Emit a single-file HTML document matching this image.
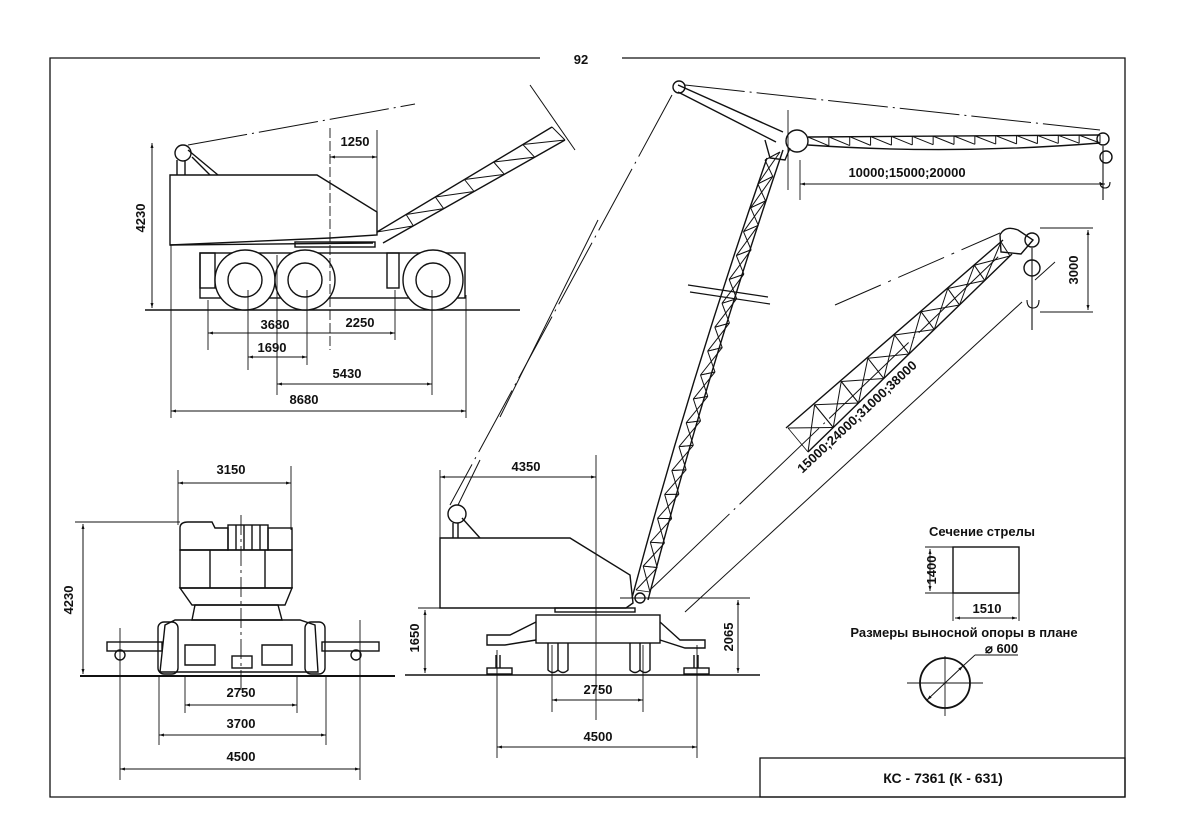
<!DOCTYPE html>
<html><head><meta charset="utf-8"><style>
html,body{margin:0;padding:0;background:#fff}
svg{display:block}
text{font-family:"Liberation Sans",sans-serif;font-weight:bold;fill:#111}
</style></head><body>
<svg id="s" width="1200" height="837" viewBox="0 0 1200 837" xmlns="http://www.w3.org/2000/svg">
<defs>
<marker id="a" viewBox="0 0 10 10" refX="10" refY="5" markerWidth="9" markerHeight="5" orient="auto-start-reverse"><path d="M0,2 L10,5 L0,8z" fill="#111"/></marker>
</defs>
<g fill="none" stroke="#111" stroke-width="1.3">
<path d="M540,58 L50,58 L50,797 L1125,797 L1125,58 L622,58"/>
<rect x="760" y="758" width="365" height="39"/>
</g>
<text x="581" y="64" font-size="13" text-anchor="middle">92</text>
<text x="943" y="783" font-size="14" text-anchor="middle">КС - 7361 (К - 631)</text>

<g id="g" fill="none" stroke="#111" stroke-width="1.4">
<line x1="145" y1="310" x2="520" y2="310"/>
<path d="M170,175 L317,175 L377,212 L377,235 L330,238 L170,245 Z"/>
<path d="M170,245 L373,243"/>
<rect x="295" y="242" width="80" height="5"/>
<circle cx="183" cy="153" r="8"/>
<path d="M177,160 L177,175 M185,160 L185,175 M188,150 L218,175 M192,157 L210,175"/>
<path d="M188,145 L415,104" stroke-dasharray="60,5,2,5" stroke-width="1"/>
<rect x="200" y="253" width="265" height="45"/>
<rect x="200" y="253" width="15" height="35"/>
<rect x="387" y="253" width="12" height="35"/>
<circle cx="245" cy="280" r="30" fill="#fff"/><circle cx="245" cy="280" r="17"/>
<circle cx="305" cy="280" r="30" fill="#fff"/><circle cx="305" cy="280" r="17"/>
<circle cx="433" cy="280" r="30" fill="#fff"/><circle cx="433" cy="280" r="17"/>
<path d="M530,85 L575,150" stroke-width="1"/>
<path d="M598,220 L500,417" stroke-width="1"/>
<line x1="152" y1="143" x2="152" y2="308" marker-start="url(#a)" marker-end="url(#a)" stroke-width="1"/>
<line x1="330" y1="128" x2="330" y2="350" stroke-width="0.9" stroke-dasharray="10,3"/>
<line x1="377" y1="130" x2="377" y2="235" stroke-width="0.9"/>
<line x1="330" y1="157" x2="377" y2="157" marker-start="url(#a)" marker-end="url(#a)" stroke-width="1"/>
<line x1="208" y1="333" x2="395" y2="333" marker-end="url(#a)" stroke-width="1"/>
<line x1="330" y1="333" x2="208" y2="333" marker-end="url(#a)" stroke-width="1"/>
<line x1="208" y1="300" x2="208" y2="350" stroke-width="0.9"/>
<line x1="395" y1="290" x2="395" y2="340" stroke-width="0.9"/>
<line x1="248" y1="357" x2="307" y2="357" marker-start="url(#a)" marker-end="url(#a)" stroke-width="1"/>
<line x1="248" y1="290" x2="248" y2="370" stroke-width="0.9"/>
<line x1="307" y1="290" x2="307" y2="365" stroke-width="0.9"/>
<line x1="277" y1="255" x2="277" y2="395" stroke-width="0.9"/>
<line x1="277" y1="384" x2="432" y2="384" marker-start="url(#a)" marker-end="url(#a)" stroke-width="1"/>
<line x1="432" y1="290" x2="432" y2="395" stroke-width="0.9"/>
<line x1="171" y1="245" x2="171" y2="418" stroke-width="0.9"/>
<line x1="466" y1="295" x2="466" y2="418" stroke-width="0.9"/>
<line x1="171" y1="411" x2="466" y2="411" marker-start="url(#a)" marker-end="url(#a)" stroke-width="1"/>

<line x1="80" y1="676" x2="395" y2="676" stroke-width="2"/>
<path d="M180,528 Q180,522 188,522 L212,522 L215,528 L228,528 L228,550 L180,550 Z"/>
<rect x="228" y="525" width="40" height="25"/>
<path d="M236,525 V550 M244,525 V550 M252,525 V550 M260,525 V550"/>
<rect x="268" y="528" width="24" height="22"/>
<path d="M180,550 L292,550 L292,588 L180,588 Z M210,550 V588 M265,550 V588"/>
<path d="M180,588 L292,588 L285,605 L192,605 Z"/>
<path d="M195,605 L278,605 L282,620 L192,620 Z"/>
<path d="M165,625 L175,620 L300,620 L315,625 L318,672 L160,672 Z"/>
<rect x="158" y="622" width="20" height="52" rx="6"/>
<rect x="305" y="622" width="20" height="52" rx="6"/>
<path d="M185,645 h30 v20 h-30z M262,645 h30 v20 h-30z"/>
<rect x="232" y="656" width="20" height="12"/>
<rect x="107" y="642" width="55" height="9"/>
<rect x="322" y="642" width="57" height="9"/>
<circle cx="120" cy="655" r="5"/><circle cx="356" cy="655" r="5"/>
<line x1="241" y1="515" x2="241" y2="690" stroke-width="0.9" stroke-dasharray="20,4,3,4"/>
<line x1="178" y1="470" x2="178" y2="525" stroke-width="0.9"/>
<line x1="291" y1="466" x2="291" y2="530" stroke-width="0.9"/>
<line x1="178" y1="483" x2="291" y2="483" marker-start="url(#a)" marker-end="url(#a)" stroke-width="1"/>
<line x1="75" y1="522" x2="180" y2="522" stroke-width="0.9"/>
<line x1="83" y1="524" x2="83" y2="674" marker-start="url(#a)" marker-end="url(#a)" stroke-width="1"/>
<line x1="185" y1="676" x2="185" y2="713" stroke-width="0.9"/>
<line x1="297" y1="676" x2="297" y2="713" stroke-width="0.9"/>
<line x1="185" y1="705" x2="297" y2="705" marker-start="url(#a)" marker-end="url(#a)" stroke-width="1"/>
<line x1="159" y1="676" x2="159" y2="745" stroke-width="0.9"/>
<line x1="326" y1="676" x2="326" y2="745" stroke-width="0.9"/>
<line x1="159" y1="735" x2="326" y2="735" marker-start="url(#a)" marker-end="url(#a)" stroke-width="1"/>
<line x1="120" y1="628" x2="120" y2="780" stroke-width="0.9"/>
<line x1="360" y1="620" x2="360" y2="780" stroke-width="0.9"/>
<line x1="120" y1="769" x2="360" y2="769" marker-start="url(#a)" marker-end="url(#a)" stroke-width="1"/>

<line x1="405" y1="675" x2="760" y2="675" stroke-width="1.6"/>
<path d="M440,538 L570,538 L630,575 L633,603 L626,608 L440,608 Z"/>
<circle cx="457" cy="514" r="9"/>
<path d="M453,523 V538 M458,523 V538 M462,518 L480,538"/>
<path d="M458,505 L480,460" stroke-width="1"/>
<rect x="555" y="608" width="80" height="4"/>
<rect x="536" y="615" width="124" height="28"/>
<path d="M536,622 L510,635 L487,635 L487,645 L505,645 L536,640"/>
<path d="M660,622 L680,640 L705,640 L705,648 L685,648 L660,640"/>
<path d="M548,643 v27 q5,5 10,0 v-27 M558,643 v27 q5,5 10,0 v-27 M630,643 v27 q5,5 10,0 v-27 M640,643 v27 q5,5 10,0 v-27"/>
<rect x="487" y="668" width="25" height="6"/><rect x="684" y="668" width="25" height="6"/>
<path d="M496,655 V668 M500,655 V668 M694,655 V668 M698,655 V668"/>
<line x1="596" y1="455" x2="596" y2="720" stroke-width="0.9"/>
<line x1="440" y1="470" x2="440" y2="538" stroke-width="0.9"/>
<line x1="440" y1="477" x2="596" y2="477" marker-start="url(#a)" marker-end="url(#a)" stroke-width="1"/>
<line x1="418" y1="608" x2="445" y2="608" stroke-width="0.9"/>
<line x1="425" y1="610" x2="425" y2="673" marker-start="url(#a)" marker-end="url(#a)" stroke-width="1"/>
<line x1="620" y1="598" x2="750" y2="598" stroke-width="0.9"/>
<line x1="738" y1="600" x2="738" y2="673" marker-start="url(#a)" marker-end="url(#a)" stroke-width="1"/>
<line x1="552" y1="645" x2="552" y2="712" stroke-width="0.9"/>
<line x1="643" y1="645" x2="643" y2="712" stroke-width="0.9"/>
<line x1="552" y1="700" x2="643" y2="700" marker-start="url(#a)" marker-end="url(#a)" stroke-width="1"/>
<line x1="497" y1="650" x2="497" y2="758" stroke-width="0.9"/>
<line x1="697" y1="645" x2="697" y2="758" stroke-width="0.9"/>
<line x1="497" y1="747" x2="697" y2="747" marker-start="url(#a)" marker-end="url(#a)" stroke-width="1"/>

<path d="M632,598 Q690,380 767,158"/>
<path d="M648,600 Q705,380 783,150"/>
<circle cx="640" cy="598" r="5"/>
<path d="M690,292 L770,304 M688,285 L768,297" stroke-width="1.2"/>
<path d="M678,85 L783,132 M678,92 L776,142"/>
<circle cx="679" cy="87" r="6"/>
<path d="M765,140 L770,158 L785,160 L790,148"/>
<circle cx="797" cy="141" r="11"/>
<path d="M685,85 L1100,130" stroke-dasharray="60,5,2,5" stroke-width="1"/>
<path d="M672,95 L450,505" stroke-dasharray="70,6,2,6" stroke-width="1"/>
<path d="M788,110 L788,190" stroke-width="0.9"/>
<path d="M808,137 L1100,135 M808,145 Q950,155 1100,143"/>
<circle cx="1103" cy="139" r="6"/>
<circle cx="1106" cy="157" r="6"/>
<path d="M1103,146 V200 M1100,182 q0,6 5,6 q5,0 5,-6" stroke-width="1.1"/>
<line x1="800" y1="160" x2="800" y2="200" stroke-width="0.9"/>
<line x1="800" y1="184" x2="1105" y2="184" marker-start="url(#a)" marker-end="url(#a)" stroke-width="1"/>
<path d="M786,428 L1003,240 M808,452 L1012,254"/>
<path d="M1000,235 q5,-10 18,-5 l15,10 l-12,14 l-20,-2 z"/>
<circle cx="1032" cy="240" r="7"/><circle cx="1032" cy="268" r="8"/>
<path d="M1032,248 V330 M1027,300 q0,8 6,8 q6,0 6,-8" stroke-width="1.1"/>
<path d="M835,305 L1000,233" stroke-dasharray="50,8,3,8" stroke-width="1"/>
<path d="M650,590 L1000,255" stroke-dasharray="110,6,2,6" stroke-width="1"/>
<path d="M685,612 L1022,302" stroke-width="1"/>
<line x1="1040" y1="228" x2="1093" y2="228" stroke-width="0.9"/>
<line x1="1040" y1="312" x2="1093" y2="312" stroke-width="0.9"/>
<line x1="1088" y1="230" x2="1088" y2="310" marker-start="url(#a)" marker-end="url(#a)" stroke-width="1"/>
<line x1="1035" y1="280" x2="1055" y2="262" stroke-width="0.9"/>

<rect x="953" y="547" width="66" height="46"/>
<line x1="925" y1="547" x2="953" y2="547" stroke-width="0.9"/>
<line x1="925" y1="593" x2="953" y2="593" stroke-width="0.9"/>
<line x1="930" y1="549" x2="930" y2="591" marker-start="url(#a)" marker-end="url(#a)" stroke-width="1"/>
<line x1="953" y1="593" x2="953" y2="621" stroke-width="0.9"/>
<line x1="1019" y1="593" x2="1019" y2="621" stroke-width="0.9"/>
<line x1="955" y1="618" x2="1017" y2="618" marker-start="url(#a)" marker-end="url(#a)" stroke-width="1"/>
<circle cx="945" cy="683" r="25" stroke-width="1.8"/>
<line x1="907" y1="683" x2="983" y2="683" stroke-width="0.9"/>
<line x1="945" y1="656" x2="945" y2="716" stroke-width="0.9"/>
<line x1="927" y1="700" x2="963" y2="666" marker-start="url(#a)" marker-end="url(#a)" stroke-width="1"/>
<line x1="963" y1="666" x2="975" y2="655" stroke-width="0.9"/>
<line x1="975" y1="655" x2="1018" y2="655" stroke-width="0.9"/>
</g>

<g font-size="13">
<text x="355" y="146" text-anchor="middle">1250</text>
<text transform="translate(145,218) rotate(-90)" text-anchor="middle">4230</text>
<text x="275" y="329" text-anchor="middle">3680</text>
<text x="360" y="327" text-anchor="middle">2250</text>
<text x="272" y="352" text-anchor="middle">1690</text>
<text x="347" y="378" text-anchor="middle">5430</text>
<text x="304" y="404" text-anchor="middle">8680</text>
<text x="231" y="474" text-anchor="middle">3150</text>
<text transform="translate(73,600) rotate(-90)" text-anchor="middle">4230</text>
<text x="241" y="697" text-anchor="middle">2750</text>
<text x="241" y="728" text-anchor="middle">3700</text>
<text x="241" y="761" text-anchor="middle">4500</text>
<text x="526" y="471" text-anchor="middle">4350</text>
<text transform="translate(419,638) rotate(-90)" text-anchor="middle">1650</text>
<text transform="translate(733,637) rotate(-90)" text-anchor="middle">2065</text>
<text x="598" y="694" text-anchor="middle">2750</text>
<text x="598" y="741" text-anchor="middle">4500</text>
<text x="907" y="177" text-anchor="middle">10000;15000;20000</text>
<text transform="translate(1078,270) rotate(-90)" text-anchor="middle">3000</text>
<text transform="translate(860,420) rotate(-43)" text-anchor="middle">15000;24000;31000;38000</text>
<text x="982" y="536" text-anchor="middle">Сечение стрелы</text>
<text transform="translate(936,570) rotate(-90)" text-anchor="middle">1400</text>
<text x="987" y="613" text-anchor="middle">1510</text>
<text x="964" y="637" text-anchor="middle">Размеры выносной опоры в плане</text>
<text x="985" y="653">⌀ 600</text>
</g>
</svg>
<script>
(function(){
var g=document.getElementById('g');
function L(x1,y1,x2,y2,w){var l=document.createElementNS('http://www.w3.org/2000/svg','line');l.setAttribute('x1',x1);l.setAttribute('y1',y1);l.setAttribute('x2',x2);l.setAttribute('y2',y2);l.setAttribute('stroke-width',w||1);g.appendChild(l);}
function lat(a1,a2,b1,b2,n,cross){
 for(var i=0;i<n;i++){var t=i/n,u=(i+1)/n;
  var ax=a1[0]+(a2[0]-a1[0])*t,ay=a1[1]+(a2[1]-a1[1])*t;
  var bx=b1[0]+(b2[0]-b1[0])*u,by=b1[1]+(b2[1]-b1[1])*u;
  var cx=a1[0]+(a2[0]-a1[0])*u,cy=a1[1]+(a2[1]-a1[1])*u;
  var dx=b1[0]+(b2[0]-b1[0])*t,dy=b1[1]+(b2[1]-b1[1])*t;
  L(ax,ay,bx,by);L(bx,by,cx,cy);
  if(cross){L(dx,dy,cx,cy);L(ax,ay,dx,dy,0.8);}
 }}
L(377,232,552,127,1.4);L(383,243,565,140,1.4);
lat([377,232],[552,127],[383,243],[565,140],6);
lat([636,590],[765,160],[650,592],[780,152],18,true);
lat([808,137],[1100,135],[808,146],[1100,143],14);
lat([788,428],[1001,242],[808,452],[1010,256],8,true);
})();
</script>
</body></html>
